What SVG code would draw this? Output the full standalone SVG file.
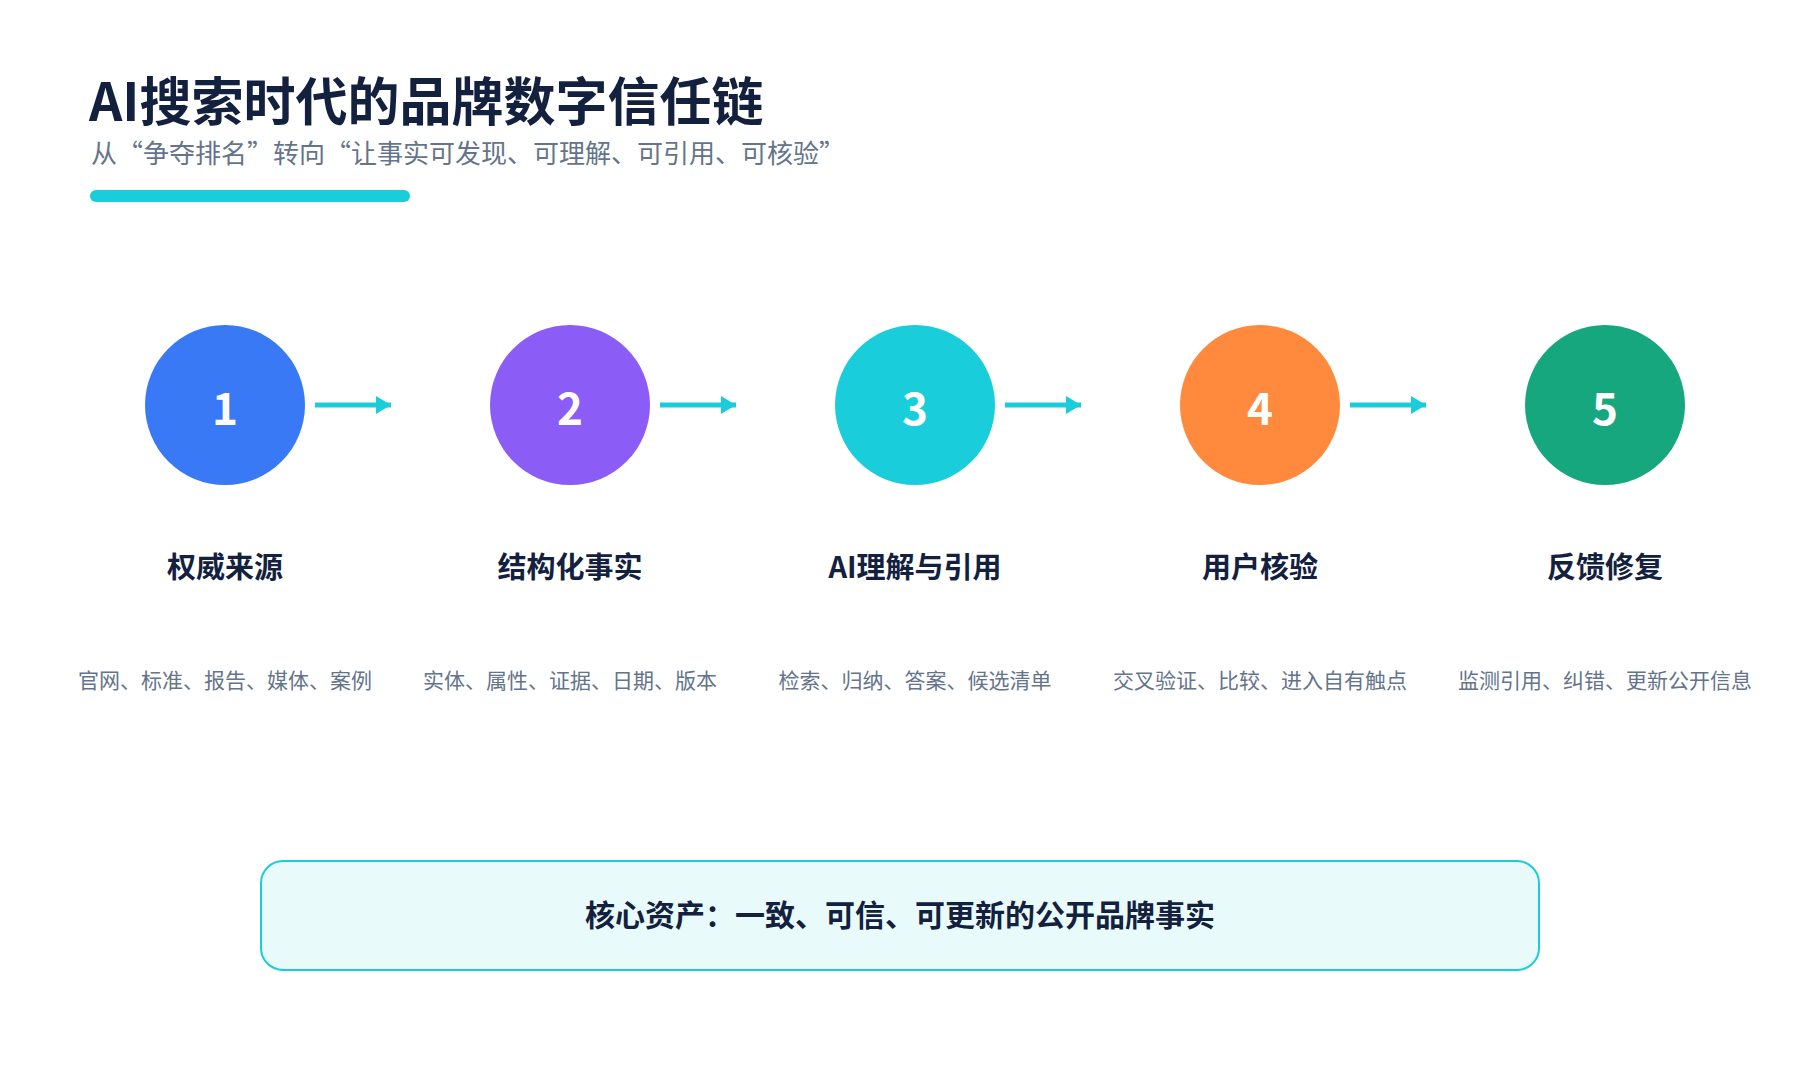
<svg xmlns="http://www.w3.org/2000/svg" width="1800" height="1080" viewBox="0 0 1800 1080">
<style>
text{font-family:"Noto Sans CJK SC","Noto Sans",sans-serif}
.title{font-size:52px;font-weight:700;fill:#13213F}
.sub{font-size:26px;fill:#64748B}
.num{font-size:44px;font-weight:700;fill:#FFFFFF;text-anchor:middle}
.lbl{font-size:29px;font-weight:700;fill:#13213F;text-anchor:middle}
.desc{font-size:21px;fill:#64748B;text-anchor:middle}
.core{font-size:30px;font-weight:700;fill:#13213F;text-anchor:middle}
.conn{stroke:#1ACDDA;stroke-width:5;fill:none}
</style>
<defs>
<marker id="ah" markerUnits="userSpaceOnUse" markerWidth="16" markerHeight="20" refX="15" refY="9" orient="auto">
<path d="M0,0 L15,9 L0,18 Z" fill="#1ACDDA"/>
</marker>
</defs>
<rect width="1800" height="1080" fill="#FFFFFF"/>
<g id="header">
<text class="title" x="89" y="121">AI搜索时代的品牌数字信任链</text>
<text class="sub" x="91" y="163">从“争夺排名”转向“让事实可发现、可理解、可引用、可核验”</text>
<rect x="90" y="190" width="320" height="12" rx="6" fill="#1ACDDA"/>
</g>
<g id="connectors">
<line class="conn" x1="315" y1="405" x2="391" y2="405" marker-end="url(#ah)"/>
<line class="conn" x1="660" y1="405" x2="736" y2="405" marker-end="url(#ah)"/>
<line class="conn" x1="1005" y1="405" x2="1081" y2="405" marker-end="url(#ah)"/>
<line class="conn" x1="1350" y1="405" x2="1426" y2="405" marker-end="url(#ah)"/>
</g>
<g id="step1">
<circle cx="225" cy="405" r="80" fill="#3A79F5"/>
<text class="num" x="225" y="425">1</text>
<text class="lbl" x="225" y="578">权威来源</text>
<text class="desc" x="225" y="688">官网、标准、报告、媒体、案例</text>
</g>
<g id="step2">
<circle cx="570" cy="405" r="80" fill="#8B5CF6"/>
<text class="num" x="570" y="425">2</text>
<text class="lbl" x="570" y="578">结构化事实</text>
<text class="desc" x="570" y="688">实体、属性、证据、日期、版本</text>
</g>
<g id="step3">
<circle cx="915" cy="405" r="80" fill="#1ACDDA"/>
<text class="num" x="915" y="425">3</text>
<text class="lbl" x="915" y="578">AI理解与引用</text>
<text class="desc" x="915" y="688">检索、归纳、答案、候选清单</text>
</g>
<g id="step4">
<circle cx="1260" cy="405" r="80" fill="#FF8A3D"/>
<text class="num" x="1260" y="425">4</text>
<text class="lbl" x="1260" y="578">用户核验</text>
<text class="desc" x="1260" y="688">交叉验证、比较、进入自有触点</text>
</g>
<g id="step5">
<circle cx="1605" cy="405" r="80" fill="#17A77E"/>
<text class="num" x="1605" y="425">5</text>
<text class="lbl" x="1605" y="578">反馈修复</text>
<text class="desc" x="1605" y="688">监测引用、纠错、更新公开信息</text>
</g>
<g id="core">
<rect x="261" y="861" width="1278" height="109" rx="22" fill="#E9FAFB" stroke="#1ACDDA" stroke-width="2"/>
<text class="core" x="900" y="926">核心资产：一致、可信、可更新的公开品牌事实</text>
</g>
</svg>
